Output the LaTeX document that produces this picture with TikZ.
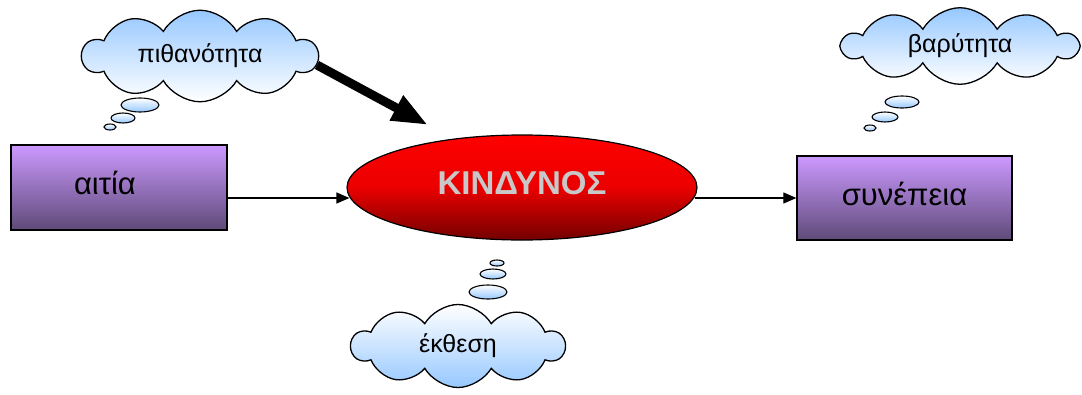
\documentclass[tikz,border=0pt]{standalone}
\usepackage{fontspec}
\setmainfont{Liberation Sans}
\usetikzlibrary{shapes.symbols,shapes.geometric,arrows.meta}
\definecolor{cloudblue}{RGB}{150,200,255}
\definecolor{boxtop}{RGB}{204,153,255}
\definecolor{boxbot}{RGB}{94,74,120}
\definecolor{redtop}{RGB}{255,0,0}
\definecolor{redbot}{RGB}{115,0,0}
\definecolor{kintext}{RGB}{200,200,200}
\begin{document}
\begin{tikzpicture}[x=1pt,y=-1pt,
  thought/.style={cloud, cloud puffs=10, cloud puff arc=120, aspect=2.8, draw=black, line width=1.3pt,
    top color=cloudblue, bottom color=white, inner sep=0pt, font=\fontsize{25}{28}\selectfont},
  bubble/.style={ellipse, draw=black, line width=1.1pt, top color=white, bottom color=cloudblue, inner sep=0pt},
  box/.style={rectangle, draw=black, line width=1.3pt, top color=boxtop, bottom color=boxbot,
    inner sep=0pt, font=\fontsize{31}{34}\selectfont},
  conn/.style={draw=black, line width=1.2pt, -{Triangle[length=13pt,width=11pt]}}
]
\useasboundingbox (0,0) rectangle (1082,394);

% clouds
\node[thought, minimum width=235pt, minimum height=82pt] (pith) at (200,56) {πιθανότητα};
\node[thought, minimum width=235pt, minimum height=74pt] (var) at (960,46) {βαρύτητα};
\node[thought, top color=white, bottom color=cloudblue, minimum width=213pt, minimum height=83pt] (ekt) at (458,346) {έκθεση};

% bubbles
\node[bubble, minimum width=38pt, minimum height=14pt] (pb1) at (140,105) {};
\node[bubble, minimum width=24pt, minimum height=10pt] (pb2) at (123,118) {};
\node[bubble, minimum width=12pt, minimum height=6pt] (pb3) at (110,127) {};
\node[bubble, minimum width=34pt, minimum height=12pt] (vb1) at (902,102) {};
\node[bubble, minimum width=26pt, minimum height=10pt] (vb2) at (885,117) {};
\node[bubble, minimum width=12pt, minimum height=6pt] (vb3) at (870,128) {};
\node[bubble, minimum width=38pt, minimum height=14pt] (eb1) at (488,292) {};
\node[bubble, minimum width=26pt, minimum height=10pt] (eb2) at (493,274) {};
\node[bubble, minimum width=14pt, minimum height=6pt] (eb3) at (497,263) {};

% boxes
\node[box, minimum width=216pt, minimum height=85pt] (cause) at (119,187.5) {\raisebox{10pt}{\hspace*{-28pt}αιτία}};
\node[box, minimum width=215pt, minimum height=84pt] (eff) at (904.5,198) {\raisebox{8pt}{συνέπεια}};

% ellipse
\node[ellipse, draw=black, line width=1.2pt, top color=redtop, bottom color=redbot, middle color=red!92!black,
  minimum width=350pt, minimum height=105pt, inner sep=0pt,
  font=\fontsize{33}{36}\selectfont\bfseries, text=kintext] (kin) at (522,187.5) {\raisebox{10pt}{ΚΙΝΔΥΝΟΣ}};

% connectors
\draw[conn] ([yshift=-10.5pt]cause.east) -- ([yshift=-10.5pt,xshift=3pt]kin.west);
\draw[conn] ([yshift=-10.5pt,xshift=-3pt]kin.east) -- (eff.west);

% thick arrow
\coordinate (thkS) at (317,65);
\coordinate (thkE) at (428,125);
\draw[line width=9pt, -{Triangle[length=36pt,width=26pt]}] (thkS) -- (thkE);
\end{tikzpicture}
\end{document}
